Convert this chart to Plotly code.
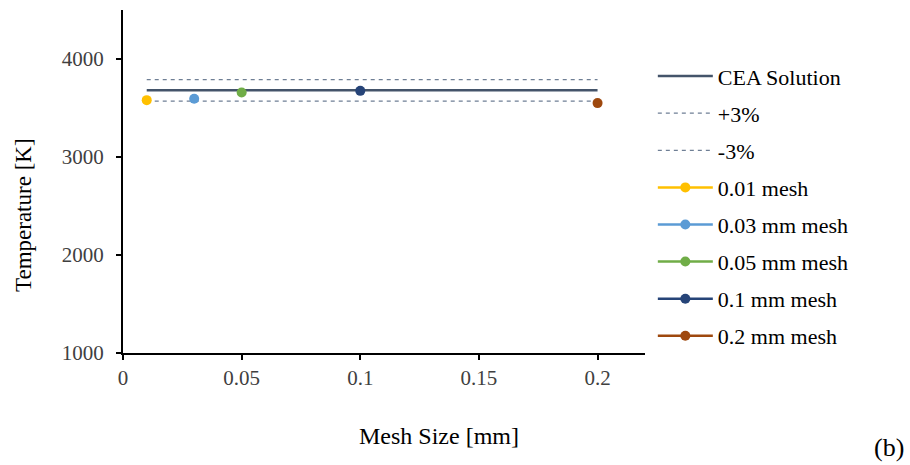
import plotly.graph_objects as go

# Mesh-independence study: adiabatic flame temperature vs. mesh size
cea_x = [0.01, 0.2]
cea_temp = 3680.0
band_pct = 0.03

mesh_labels = ["0.01 mesh", "0.03 mm mesh", "0.05 mm mesh", "0.1 mm mesh", "0.2 mm mesh"]
mesh_sizes = [0.01, 0.03, 0.05, 0.1, 0.2]
mesh_temps = [3580, 3595, 3658, 3675, 3550]
mesh_colors = ["#FFC000", "#5B9BD5", "#70AD47", "#264478", "#9E480E"]

x_ticks = [0, 0.05, 0.1, 0.15, 0.2]
x_tick_text = ["0", "0.05", "0.1", "0.15", "0.2"]
y_ticks = [1000, 2000, 3000, 4000]

serif = "Liberation Serif"

fig = go.Figure()

fig.add_trace(go.Scatter(
    x=cea_x, y=[cea_temp] * 2, mode="lines", name="CEA Solution",
    line=dict(color="#44546A", width=2.5), legendgroup="g0"))
fig.add_trace(go.Scatter(
    x=cea_x, y=[cea_temp * (1 + band_pct)] * 2, mode="lines", name="+3%",
    line=dict(color="#6F7F95", width=1.2, dash="4px,4px"), legendgroup="g1"))
fig.add_trace(go.Scatter(
    x=cea_x, y=[cea_temp * (1 - band_pct)] * 2, mode="lines", name="-3%",
    line=dict(color="#6F7F95", width=1.2, dash="4px,4px"), legendgroup="g2"))

for i, (lab, xv, tv, col) in enumerate(zip(mesh_labels, mesh_sizes, mesh_temps, mesh_colors)):
    fig.add_trace(go.Scatter(
        x=[xv], y=[tv], mode="lines+markers", name=lab,
        line=dict(color=col, width=2.5),
        marker=dict(color=col, size=10), legendgroup=f"m{i}"))

fig.update_layout(
    width=910, height=465,
    margin=dict(l=123, r=265, t=10, b=112),
    paper_bgcolor="white", plot_bgcolor="white",
    font=dict(family=serif, size=21, color="#000000"),
    showlegend=True,
    legend=dict(x=1.015, y=0.868, xanchor="left", yanchor="top",
                font=dict(family=serif, size=22, color="#000000"),
                tracegroupgap=5.5, itemwidth=55, bgcolor="rgba(0,0,0,0)"),
    xaxis=dict(range=[0, 0.22], tickvals=x_ticks, ticktext=x_tick_text,
               showgrid=False, zeroline=False, showline=True,
               linecolor="#000000", linewidth=2, ticks="outside",
               ticklen=5, tickwidth=2, tickcolor="#000000",
               tickfont=dict(family=serif, size=21, color="#404040")),
    yaxis=dict(range=[1000, 4500], tickvals=y_ticks,
               showgrid=False, zeroline=False, showline=True,
               linecolor="#000000", linewidth=2, ticks="outside",
               ticklen=5, tickwidth=2, tickcolor="#000000",
               ticklabelstandoff=8,
               tickfont=dict(family=serif, size=21, color="#404040")),
    annotations=[
        dict(text="Mesh Size [mm]", xref="paper", yref="paper",
             x=(439 - 123) / 522, y=-(436 - 353) / 343,
             xanchor="center", yanchor="middle", showarrow=False,
             font=dict(family=serif, size=24, color="#000000")),
        dict(text="Temperature [K]", xref="paper", yref="paper",
             x=-(123 - 23) / 522, y=(353 - 215) / 343, textangle=-90,
             xanchor="center", yanchor="middle", showarrow=False,
             font=dict(family=serif, size=23, color="#000000")),
        dict(text="(b)", xref="paper", yref="paper",
             x=(889 - 123) / 522, y=-(447 - 353) / 343,
             xanchor="center", yanchor="middle", showarrow=False,
             font=dict(family=serif, size=26, color="#000000")),
    ],
)

fig.write_html("out.html")
